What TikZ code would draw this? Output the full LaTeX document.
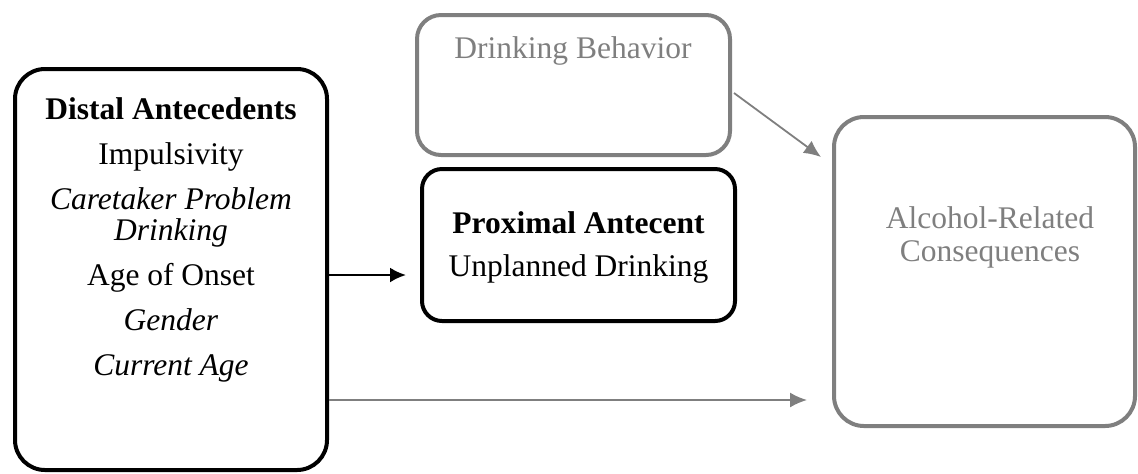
\documentclass[tikz,border=0pt]{standalone}
\usepackage{fontspec}
\setmainfont{Liberation Serif}
\usepackage{xcolor}
\usetikzlibrary{positioning, calc, arrows.meta}
\definecolor{boxgrey}{RGB}{127,127,127}

\begin{document}
\begin{tikzpicture}[x=0.5pt, y=-0.5pt,
    blackbox/.style={draw, line width=2pt, inner sep=0pt},
    greybox/.style={draw=boxgrey, line width=2pt, inner sep=0pt},
    txt/.style={font=\fontsize{15.75}{15.5}\selectfont, align=center, inner sep=0pt},
    blackarrow/.style={-{Latex[length=8pt,width=7.5pt]}, line width=1.2pt},
    greyarrow/.style={-{Latex[length=8.5pt,width=7.5pt]}, draw=boxgrey, fill=boxgrey, line width=0.9pt}]
    \useasboundingbox (0,0) rectangle (1138,473);
    \node[blackbox, rounded corners=15pt, minimum width=156pt, minimum height=200.5pt] (distal) at (171,269.5) {};
    \node[greybox, rounded corners=12pt, minimum width=156.5pt, minimum height=70pt] (drinking) at (573.5,85) {};
    \node[blackbox, rounded corners=10pt, minimum width=156.5pt, minimum height=76pt] (proximal) at (578.5,245) {};
    \node[greybox, rounded corners=15pt, minimum width=150.5pt, minimum height=154.5pt] (alcohol) at (984.5,271.5) {};
    \node[txt, anchor=north] (distaltext) at (171,97) {\textbf{Distal Antecedents}\\[7pt] Impulsivity\\[7pt] \textit{Caretaker Problem}\\ \textit{Drinking}\\[7pt] Age of Onset\\[7pt] \textit{Gender}\\[7pt] \textit{Current Age}};
    \node[txt, anchor=base, text=boxgrey] (drinkingtext) at (573,58) {Drinking Behavior};
    \node[txt, anchor=north] (proximaltext) at (578.5,211) {\textbf{Proximal Antecent}\\[6pt] Unplanned Drinking};
    \node[txt, anchor=north, text=boxgrey] (alcoholtext) at (990,206.5) {Alcohol-Related\\[1pt] Consequences};
    \coordinate (proxin) at ($(proximal.west)+(-14,30)$);
    \coordinate (alcin) at ($(alcohol.west)+(-25,128.5)$);
    \coordinate (drinkout) at ($(drinking.east)+(2,8)$);
    \coordinate (alctop) at ($(alcohol.north west)+(-11,42)$);
    \draw[blackarrow] (distal.east |- proxin) -- (proxin);
    \draw[greyarrow] (distal.east |- alcin) -- (alcin);
    \draw[greyarrow] (drinkout) -- (alctop);
\end{tikzpicture}
\end{document}
